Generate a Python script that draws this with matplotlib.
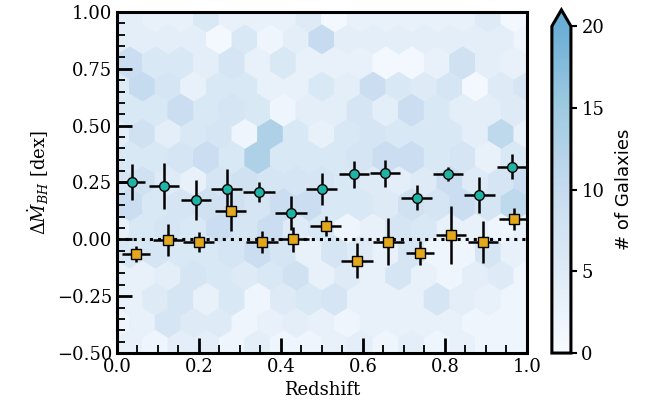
import numpy as np
import matplotlib
matplotlib.use("Agg")
import matplotlib.pyplot as plt
from matplotlib.colors import LinearSegmentedColormap

plt.rcParams['font.family'] = 'DejaVu Serif'
plt.rcParams['mathtext.fontset'] = 'dejavuserif'

# --- hexbin background: galaxy counts per hexagon ---
# lattice A rows (17 hexes each), top to bottom
hexA_y = [0.880, 0.672, 0.464, 0.257, 0.049, -0.159, -0.367]
hexA_counts = [
    [4, 4, 4, 4, 1, 6, 2, 4, 10, 4, 4, 4, 4, 4, 4, 4, 2],
    [5, 10, 7, 3, 6, 6, 3, 3, 6, 4, 9, 6, 5, 7, 1, 5, 7],
    [4, 8, 4, 6, 7, 2, 13, 6, 3, 6, 7, 6, 6, 6, 4, 11, 3],
    [7, 8, 5, 3, 7, 8, 7, 7, 7, 6, 5, 4, 5, 9, 5, 7, 9],
    [3, 6, 7, 6, 9, 7, 9, 5, 6, 2, 3, 7, 6, 3, 3, 2, 3],
    [3, 3, 4, 7, 6, 5, 6, 8, 3, 5, 3, 7, 3, 2, 4, 5, 2],
    [2, 3, 7, 5, 5, 2, 3, 4, 3, 2, 3, 3, 3, 3, 2, 2, 2],
]
# lattice B rows (16 hexes each), top to bottom
hexB_y = [0.984, 0.776, 0.569, 0.361, 0.153, -0.055, -0.263, -0.471]
hexB_counts = [
    [4, 3, 3, 6, 3, 3, 3, 5, 1, 3, 3, 3, 3, 3, 5, 1],
    [9, 6, 6, 4, 7, 3, 6, 3, 3, 3, 1, 1, 3, 8, 4, 3],
    [6, 6, 9, 6, 7, 6, 2, 4, 4, 7, 4, 9, 6, 4, 4, 5],
    [6, 6, 7, 9, 6, 13, 6, 6, 6, 7, 9, 9, 6, 7, 3, 6],
    [9, 6, 7, 8, 8, 7, 9, 9, 6, 6, 5, 8, 7, 9, 7, 11],
    [6, 7, 6, 6, 7, 9, 7, 3, 7, 5, 3, 7, 2, 2, 7, 3],
    [3, 5, 7, 3, 6, 2, 5, 6, 7, 3, 3, 3, 7, 4, 3, 2],
    [3, 2, 4, 4, 2, 4, 2, 2, 3, 4, 2, 4, 2, 3, 2, 2],
]
hex_nx, hex_ny = 16, 9
hex_extent = (0.0, 1.0, -0.575, 1.295)

# --- binned medians ---
z_teal = [0.037, 0.115, 0.193, 0.268, 0.346, 0.424, 0.499, 0.578, 0.654, 0.731, 0.807, 0.884, 0.963]
dm_teal = [0.253, 0.234, 0.173, 0.221, 0.207, 0.114, 0.220, 0.286, 0.290, 0.183, 0.287, 0.195, 0.319]
zerr_teal = [0.032, 0.037, 0.036, 0.038, 0.039, 0.039, 0.037, 0.037, 0.037, 0.037, 0.037, 0.038, 0.037]
dmerr_teal = [0.08, 0.10, 0.088, 0.09, 0.045, 0.075, 0.07, 0.06, 0.06, 0.056, 0.03, 0.08, 0.055]

z_gold = [0.046, 0.124, 0.199, 0.277, 0.354, 0.430, 0.509, 0.585, 0.662, 0.739, 0.815, 0.893, 0.969]
dm_gold = [-0.066, -0.003, -0.012, 0.126, -0.011, 0.0, 0.060, -0.094, -0.011, -0.059, 0.019, -0.011, 0.089]
zerr_gold = [0.034, 0.037, 0.037, 0.038, 0.039, 0.038, 0.037, 0.039, 0.037, 0.035, 0.037, 0.037, 0.037]
dmerr_gold = [0.035, 0.07, 0.045, 0.088, 0.047, 0.054, 0.044, 0.077, 0.103, 0.053, 0.126, 0.093, 0.048]

# build hex centres from the lattice layout
sx = (hex_extent[1] - hex_extent[0]) / hex_nx
hx, hy, hc = [], [], []
for yv, row in zip(hexA_y, hexA_counts):
    for i, c in enumerate(row):
        hx.append(hex_extent[0] + i * sx)
        hy.append(yv)
        hc.append(c)
for yv, row in zip(hexB_y, hexB_counts):
    for i, c in enumerate(row):
        hx.append(hex_extent[0] + (i + 0.5) * sx)
        hy.append(yv)
        hc.append(c)

cmap = LinearSegmentedColormap.from_list('blues_half', plt.cm.Blues(np.linspace(0, 0.5, 256)))
cmap.set_over(plt.cm.Blues(0.5))

fig = plt.figure(figsize=(6.57, 4.11), dpi=100)
ax = fig.add_axes([0.178, 0.141, 0.624, 0.830])
cax = fig.add_axes([0.840, 0.141, 0.029, 0.835])

hb = ax.hexbin(hx, hy, C=hc, gridsize=(hex_nx, hex_ny), extent=hex_extent,
               reduce_C_function=np.sum, cmap=cmap, vmin=0, vmax=20, zorder=0)

ax.axhline(0, color='k', ls=':', lw=2.2, zorder=1)

ax.errorbar(z_teal, dm_teal, xerr=zerr_teal, yerr=dmerr_teal, fmt='o', color='#1fb3a6',
            mec='k', mew=1.0, ms=7, ecolor='k', elinewidth=1.8, capsize=0, zorder=3)
ax.errorbar(z_gold, dm_gold, xerr=zerr_gold, yerr=dmerr_gold, fmt='s', color='#e3a71e',
            mec='k', mew=1.0, ms=6.5, ecolor='k', elinewidth=1.8, capsize=0, zorder=3)

ax.set_xlim(0, 1)
ax.set_ylim(-0.5, 1.0)
ax.set_xticks(np.arange(0, 1.01, 0.2))
ax.set_yticks(np.arange(-0.5, 1.01, 0.25))
ax.set_xticks(np.arange(0, 1.001, 0.05), minor=True)
ax.set_yticks(np.arange(-0.5, 1.001, 0.05), minor=True)
ax.tick_params(which='major', direction='in', length=11, width=2, labelsize=13)
ax.tick_params(which='minor', direction='in', length=5.5, width=1.3)
for s in ax.spines.values():
    s.set_linewidth(2.2)

ax.set_xlabel('Redshift', fontsize=13)
ax.set_ylabel(r'$\Delta\dot{M}_{BH}$ [dex]', fontsize=13)

cb = fig.colorbar(hb, cax=cax, extend='max')
cb.set_ticks([0, 5, 10, 15, 20])
cb.ax.tick_params(labelsize=13, width=1.5, length=4)
cb.outline.set_linewidth(2.2)
cb.set_label('# of Galaxies', fontsize=13, family='DejaVu Sans', labelpad=8)

fig.savefig('out.png', dpi=100)
